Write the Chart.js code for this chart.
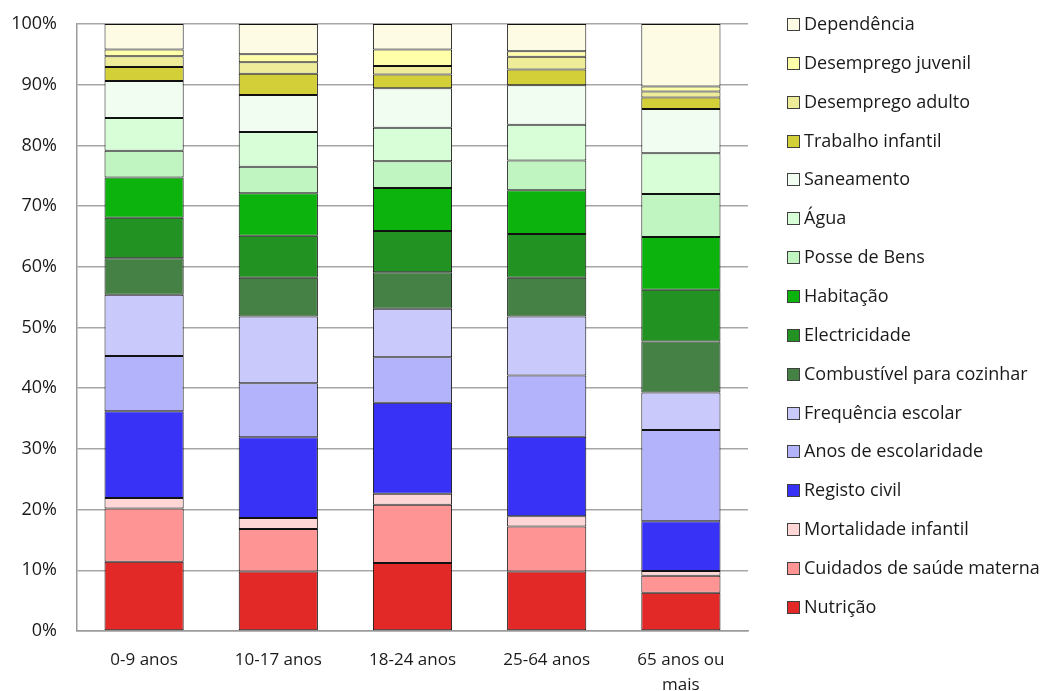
<!DOCTYPE html>
<html>
<head>
<meta charset="utf-8">
<script src="https://cdn.jsdelivr.net/npm/chart.js@4/dist/chart.umd.min.js"></script>
<style>
  html, body { margin:0; padding:0; background:#fff; }
  #wrap { width:1047px; height:691px; }
</style>
</head>
<body>
<div id="wrap"><canvas id="chart" width="1047" height="691"></canvas></div>
<script>
/* ---------- Data ---------- */
const categories = ['0-9 anos', '10-17 anos', '18-24 anos', '25-64 anos', ['65 anos ou', 'mais']];

const nutricao      = [11.4,  9.8, 11.2,  9.8,  6.3];
const cuidados      = [ 8.8,  7.0,  9.6,  7.4,  2.8];
const mortalidade   = [ 1.7,  1.8,  1.8,  1.7,  0.8];
const registo       = [14.3, 13.3, 15.0, 13.1,  8.2];
const anosEscola    = [ 9.1,  8.9,  7.5, 10.1, 15.0];
const frequencia    = [10.1, 11.0,  8.0,  9.7,  6.2];
const combustivel   = [ 6.0,  6.4,  6.0,  6.4,  8.4];
const electricidade = [ 6.7,  6.9,  6.8,  7.2,  8.5];
const habitacao     = [ 6.6,  7.0,  7.1,  7.2,  8.7];
const posseBens     = [ 4.4,  4.4,  4.4,  4.9,  7.1];
const agua          = [ 5.4,  5.7,  5.5,  5.9,  6.7];
const saneamento    = [ 6.1,  6.1,  6.5,  6.5,  7.3];
const trabInfantil  = [ 2.3,  3.5,  2.3,  2.6,  1.9];
const desempAdulto  = [ 1.8,  1.9,  1.4,  2.1,  1.0];
const desempJuvenil = [ 1.1,  1.3,  2.7,  0.9,  0.8];
const dependencia   = [ 4.2,  5.0,  4.2,  4.5, 10.3];

const yTicks = [0, 10, 20, 30, 40, 50, 60, 70, 80, 90, 100];

// series, bottom to top
const series = [
  ['Nutrição', nutricao, '#E32828'],
  ['Cuidados de saúde materna', cuidados, '#FF9494'],
  ['Mortalidade infantil', mortalidade, '#FFD6D6'],
  ['Registo civil', registo, '#3732F5'],
  ['Anos de escolaridade', anosEscola, '#B3B3FB'],
  ['Frequência escolar', frequencia, '#C9C9FB'],
  ['Combustível para cozinhar', combustivel, '#458045'],
  ['Electricidade', electricidade, '#229222'],
  ['Habitação', habitacao, '#0DB30D'],
  ['Posse de Bens', posseBens, '#C0F4C0'],
  ['Água', agua, '#D8FED8'],
  ['Saneamento', saneamento, '#F2FDF2'],
  ['Trabalho infantil', trabInfantil, '#D3CF38'],
  ['Desemprego adulto', desempAdulto, '#EEEC98'],
  ['Desemprego juvenil', desempJuvenil, '#FFFFAA'],
  ['Dependência', dependencia, '#FEFBE4']
];

const FONT = '"Open Sans", Lato, sans-serif';

/* ---------- Legend drawn on the right, top item = last series ---------- */
const sideLegend = {
  id: 'sideLegend',
  afterDraw(chart, args, opts){
    const ctx = chart.ctx;
    const sets = chart.data.datasets.slice().reverse();
    ctx.save();
    ctx.font = opts.size + 'px ' + FONT;
    ctx.textBaseline = 'middle';
    ctx.textAlign = 'left';
    sets.forEach((ds, i) => {
      const y = Math.round(opts.top + i * opts.gap);
      ctx.fillStyle = ds.backgroundColor;
      ctx.fillRect(opts.left, y - 6, 13, 13);
      ctx.strokeStyle = '#404040'; ctx.lineWidth = 1;
      ctx.strokeRect(opts.left + 0.5, y - 5.5, 12, 12);
      ctx.fillStyle = '#1a1a1a';
      ctx.fillText(ds.label, opts.left + 17, y + 1);
    });
    ctx.restore();
  }
};

/* ---------- Chart ---------- */
function init(){
  const ctx = document.getElementById('chart').getContext('2d');
  new Chart(ctx, {
    type: 'bar',
    data: {
      labels: categories,
      datasets: series.map(s => ({
        label: s[0], data: s[1], backgroundColor: s[2],
        borderColor: '#111', borderWidth: 1, borderSkipped: false,
        barPercentage: 0.59, categoryPercentage: 1
      }))
    },
    options: {
      responsive: false,
      animation: false,
      layout: { padding: { left: 8, right: 299, top: 24, bottom: 0 } },
      plugins: {
        legend: { display: false },
        tooltip: { enabled: false },
        sideLegend: { left: 787, top: 24, gap: 38.85, size: 18 }
      },
      scales: {
        x: {
          stacked: true,
          afterFit: s => { s.height = 60; },
          grid: { display: false, drawTicks: false },
          border: { color: '#9a9a9a', width: 1.5 },
          ticks: { color: '#1a1a1a', font: { family: FONT, size: 17, lineHeight: 1.45 }, padding: 17, maxRotation: 0 }
        },
        y: {
          stacked: true,
          min: 0, max: 100,
          afterFit: s => { s.width = 69; s.paddingTop = 0; s.paddingBottom = 0; },
          afterBuildTicks: s => { s.ticks = yTicks.map(v => ({ value: v })); },
          grid: { color: '#a6a6a6', lineWidth: 1.5, drawTicks: false },
          border: { color: '#9a9a9a', width: 1.5 },
          ticks: { color: '#1a1a1a', font: { family: FONT, size: 18 }, padding: 20, callback: v => v + '%' }
        }
      }
    },
    plugins: [sideLegend]
  });
}
window.addEventListener('load', init);
</script>
</body>
</html>
